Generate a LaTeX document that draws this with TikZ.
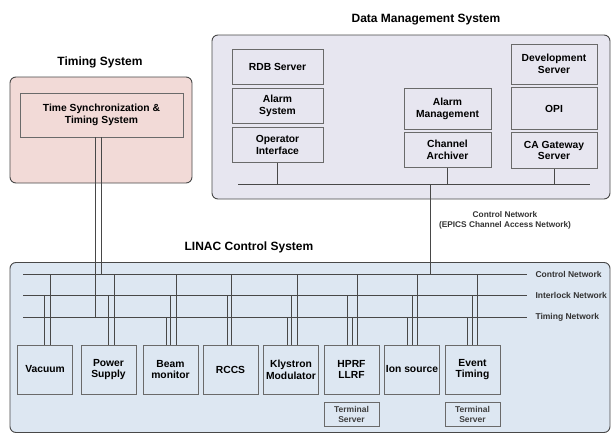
\documentclass[tikz,border=0pt]{standalone}
\usepackage{fontspec}
\setmainfont{Liberation Sans}
\usetikzlibrary{positioning,backgrounds}

\definecolor{timefill}{HTML}{F2DAD7}
\definecolor{dmsfill}{HTML}{E7E6F0}
\definecolor{linacfill}{HTML}{DDE7F2}
\definecolor{edgegray}{HTML}{484848}
\definecolor{boxgray}{HTML}{6A6A6A}

\tikzset{
  system/.style={draw=edgegray, line width=0.9pt, rounded corners=6pt, inner sep=0pt},
  unit/.style={draw=boxgray, line width=0.7pt, font=\fontsize{10.3}{11.8}\selectfont\bfseries,
    align=center, inner sep=0pt, minimum width=91pt, minimum height=35pt},
  device/.style={unit, minimum width=55pt, minimum height=49pt},
  termbox/.style={draw=boxgray, line width=0.7pt, font=\fontsize{8.5}{9.6}\selectfont\bfseries,
    text=black!75, align=center, inner sep=0pt, minimum width=55pt, minimum height=24pt},
  title/.style={font=\fontsize{12}{14}\selectfont\bfseries},
  netlabel/.style={font=\fontsize{8.5}{10}\selectfont\bfseries, text=black!80, align=center},
  link/.style={draw=edgegray, line width=0.65pt},
}

\begin{document}
\begin{tikzpicture}[x=1pt, y=-1pt]
    \useasboundingbox (0,0) rectangle (611,434);

    % timing system
    \node[title] (tstitle) at (100,62) {Timing System};
    \node[system, fill=timefill, minimum width=182pt, minimum height=106pt] (ts) at (101,130) {};
    \node[unit, fill=timefill, minimum width=163pt, minimum height=44pt] (tss) at (101.5,115)
        {Time Synchronization \&\\Timing System};

    % data management system
    \node[title] (dmstitle) at (426,20) {Data Management System};
    \node[system, fill=dmsfill, minimum width=398pt, minimum height=164pt] (dms) at (411,117) {};
    \node[unit] (rdb) at (277.5,66.5) {RDB Server};
    \node[unit, below=4pt of rdb] (alsys) {Alarm\\System};
    \node[unit, below=3pt of alsys] (opif) {Operator\\Interface};
    \node[unit, minimum width=87pt, minimum height=41pt] (almgmt) at (447.5,108.5) {Alarm\\Management};
    \node[unit, minimum width=87pt, below=3pt of almgmt] (archiver) {Channel\\Archiver};
    \node[unit, minimum width=86pt, minimum height=40pt] (devsrv) at (554,64) {Development\\Server};
    \node[unit, minimum width=86pt, minimum height=42pt, below=3pt of devsrv] (opi) {OPI};
    \node[unit, minimum width=86pt, minimum height=36pt, below=2pt of opi] (cagw) {CA Gateway\\Server};

    \coordinate (busL) at (238,184);
    \coordinate (busR) at (590,184);
    \draw[link] (busL) -- (busR);
    \foreach \n in {opif,archiver,cagw}
        \draw[link] (\n.south) -- (\n.south |- busL);

    % linac control system
    \node[title] (lctitle) at (249,247) {LINAC Control System};
    \node[system, fill=linacfill, minimum width=600pt, minimum height=170pt] (lcs) at (310,347.5) {};

    \foreach \net/\y/\txt in {ctl/274.5/Control Network, ilk/295.5/Interlock Network, tmg/317/Timing Network}{
        \coordinate (net-\net) at (23,\y);
        \coordinate (end-\net) at (527,\y);
        \draw[link] (net-\net) -- (end-\net);
        \node[netlabel, anchor=west] (lbl-\net) at (532,\y) {\txt};
    }

    \foreach \name/\x/\txt in {vac/45/Vacuum, ps/108.5/{Power\\Supply}, bm/170.5/{Beam\\monitor},
        rccs/230.5/RCCS, kly/291/{Klystron\\Modulator}, hprf/351.5/{HPRF\\LLRF},
        ion/412/Ion source, evt/472.5/{Event\\Timing}}
        \node[device] (\name) at (\x,369.5) {\txt};

    \node[termbox, below=8pt of hprf] (term1) {Terminal\\Server};
    \node[termbox, below=8pt of evt] (term2) {Terminal\\Server};

    % drops to the networks
    \foreach \name/\dx/\net in {vac/-1/ilk, vac/5/ctl, ps/0/ilk, ps/5.5/ctl,
        bm/-4/tmg, bm/0/ilk, bm/5.5/ctl, rccs/-3/ilk, rccs/1/ctl,
        kly/-4/tmg, kly/0/ilk, kly/6/ctl, hprf/-4/ilk, hprf/1/tmg, hprf/6/ctl,
        ion/-5/tmg, ion/0/ilk, ion/5/ctl, evt/-5/tmg, evt/0/ilk, evt/5/ctl}
        \draw[link] ([xshift=\dx pt]\name.north) -- ([xshift=\dx pt]\name.north |- net-\net);

    \draw[link] ([xshift=-6pt]tss.south) -- ([xshift=-6pt]tss.south |- net-tmg);
    \draw[link] (tss.south) -- (tss.south |- net-ctl);

    \coordinate (cadrop) at (430,184);
    \draw[link] (cadrop) -- (cadrop |- net-ctl);
    \node[netlabel, font=\fontsize{8.3}{10.5}\selectfont\bfseries] (calabel) at (505,220.5)
        {Control Network\\(EPICS Channel Access Network)};
\end{tikzpicture}
\end{document}
